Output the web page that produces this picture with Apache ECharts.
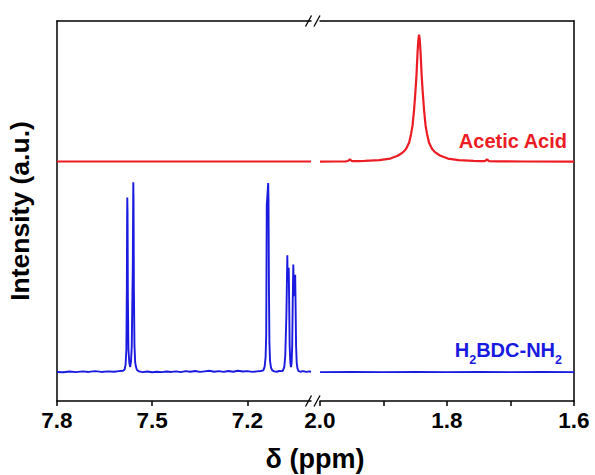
<!DOCTYPE html>
<html>
<head>
<meta charset="utf-8">
<script src="https://cdn.jsdelivr.net/npm/echarts@6/dist/echarts.min.js"></script>
<style>
  html, body { margin: 0; padding: 0; background: #fff; }
  #chart { width: 595px; height: 475px; }
</style>
</head>
<body>
<div id="chart"></div>
<script>
// ---- tick values (ppm) ----
const leftTickLabels = [7.8, 7.5, 7.2];
const rightTickLabels = [2.0, 1.8, 1.6];
const rightTicks = [2.0, 1.9, 1.8, 1.7, 1.6];

// ---- series names ----
const blueLabel = '{n|H}{s|2}{n|BDC-NH}{s|2}';
const redLabel = 'Acetic Acid';

// ---- H2BDC-NH2 spectrum, aromatic window: [ppm, intensity] ----
const blueLeft = [
  [7.800, 0.2], [7.780, 0.0], [7.760, 0.4], [7.740, 0.1], [7.720, 0.5], [7.700, 0.2],
  [7.680, 0.6], [7.660, 0.2], [7.640, 0.5], [7.620, 0.3], [7.605, 0.6],
  [7.592, 0.8], [7.587, 1.5], [7.584, 4], [7.5815, 12], [7.5800, 45], [7.5792, 80],
  [7.5786, 92], [7.5778, 84], [7.5768, 40], [7.5750, 12], [7.5722, 5], [7.5695, 2.8],
  [7.5668, 6], [7.5645, 14], [7.5625, 40], [7.5613, 55], [7.5605, 78], [7.5597, 100],
  [7.5589, 90], [7.5579, 45], [7.5560, 14], [7.5538, 5.4], [7.5515, 3], [7.548, 1.2],
  [7.542, 0.5],
  [7.530, 0.1], [7.515, 0.4], [7.500, 0.0], [7.485, 0.3], [7.470, 0.1], [7.455, 0.4],
  [7.440, 0.2], [7.425, 0.5], [7.410, 0.1], [7.395, 0.6], [7.380, 0.3], [7.365, 0.7],
  [7.350, 0.2], [7.335, 0.5], [7.320, 0.8], [7.305, 0.3], [7.290, 0.6], [7.275, 0.2],
  [7.260, 0.7], [7.245, 0.3], [7.230, 0.8], [7.215, 0.4], [7.200, 0.6], [7.185, 0.2],
  [7.170, 0.5], [7.158, 0.7],
  [7.150, 1.0], [7.146, 3], [7.143, 8], [7.1410, 20], [7.1400, 60], [7.1393, 88],
  [7.1370, 94], [7.1348, 99.6], [7.1338, 90], [7.1325, 45], [7.1310, 16], [7.1290, 6],
  [7.1260, 2.5], [7.122, 1.0], [7.116, 0.5],
  [7.108, 0.3], [7.100, 0.7], [7.092, 0.6],
  [7.088, 1.0], [7.084, 3], [7.0810, 9], [7.0797, 17], [7.0775, 30], [7.0758, 48],
  [7.0746, 61.6], [7.0735, 50], [7.0722, 48], [7.0702, 55], [7.0690, 40], [7.0672, 14],
  [7.0650, 5], [7.0630, 2.8], [7.0610, 5], [7.0592, 14], [7.0575, 38], [7.0557, 56.7],
  [7.0545, 44], [7.0530, 40], [7.0512, 47], [7.0498, 51.4], [7.0485, 35], [7.0470, 14],
  [7.0450, 5], [7.0425, 2], [7.040, 0.8], [7.034, 0.3], [7.025, 0.6], [7.015, 0.2],
  [7.005, 0.5], [7.000, 0.3]
];

// ---- H2BDC-NH2 spectrum, aliphatic window ----
const blueRight = [
  [2.00, 0.1], [1.95, 0.2], [1.90, 0.1], [1.85, 0.2], [1.80, 0.1],
  [1.75, 0.2], [1.70, 0.1], [1.65, 0.2], [1.60, 0.1]
];

// ---- acetic acid spectrum, aromatic window (flat) ----
const redLeft = [[7.8, 0.0], [7.4, 0.0], [7.0, 0.0]];

// ---- acetic acid spectrum, aliphatic window ----
const redRight = [
  [2.000, 0.0], [1.975, 0.05], [1.960, 0.15], [1.956, 0.3], [1.953, 1.2], [1.950, 0.3],
  [1.940, 0.3], [1.9299, 0.4], [1.9065, 0.8], [1.8893, 1.6], [1.8768, 3.2], [1.8690, 5.0],
  [1.8643, 6.8], [1.8596, 10.0], [1.8565, 14.7], [1.8543, 18.9], [1.8518, 27.4],
  [1.8495, 37.9], [1.8481, 45.3], [1.8463, 57.9], [1.8451, 64.2], [1.8440, 66.8],
  [1.8429, 64.2], [1.8417, 57.9], [1.8399, 45.3], [1.8385, 37.9], [1.8362, 27.4],
  [1.8337, 18.9], [1.8315, 14.7], [1.8284, 10.0], [1.8237, 6.8], [1.8190, 5.0],
  [1.8112, 3.2], [1.7987, 1.6], [1.7815, 0.8], [1.7581, 0.4], [1.748, 0.3], [1.740, 0.3],
  [1.737, 1.2], [1.734, 0.3], [1.719, 0.1], [1.680, 0.05], [1.600, 0.0]
];

// vertical stacking of the two traces (intensity units, axis 0..200)
const blueOffset = 15.1;
const redOffset = 126;

const BLUE = '#1a1ae0';
const RED = '#ec1c24';
const FONT = '"Liberation Sans", Arial, sans-serif';

// plot geometry: two panels separated by an axis break
const G = { top: 21, height: 380, leftX0: 57, leftX1: 311, rightX0: 320, rightX1: 574 };

const shift = (arr, off) => arr.map(p => [p[0], p[1] + off]);

const frameLine = { show: true, onZero: false, lineStyle: { color: '#000', width: 1.5 } };
const tickLabelStyle = {
  color: '#000', fontSize: 22.5, fontWeight: 'bold', fontFamily: FONT, margin: 8,
  formatter: v => Number(v).toFixed(1)
};

function bottomAxis(gridIndex, min, max, ticks, labels) {
  return {
    gridIndex, type: 'value', min, max, inverse: true, position: 'bottom',
    axisLine: frameLine,
    axisTick: { show: true, inside: false, length: 5, customValues: ticks,
                lineStyle: { color: '#000', width: 1.5 } },
    axisLabel: Object.assign({ customValues: labels, showMinLabel: true, showMaxLabel: true }, tickLabelStyle),
    splitLine: { show: false }
  };
}
function topAxis(gridIndex, min, max) {
  return {
    gridIndex, type: 'value', min, max, inverse: true, position: 'top',
    axisLine: frameLine, axisTick: { show: false }, axisLabel: { show: false },
    splitLine: { show: false }
  };
}

const chart = echarts.init(document.getElementById('chart'), null, { renderer: 'svg' });

// axis-break slashes on the top and bottom frame lines
const breakMarks = [];
[G.top, G.top + G.height].forEach(yy => {
  [308.5, 317].forEach(cx => {
    breakMarks.push({
      type: 'line', silent: true,
      shape: { x1: cx - 3, y1: yy + 5.5, x2: cx + 3, y2: yy - 5.5 },
      style: { stroke: '#000', lineWidth: 1.3 }
    });
  });
});

chart.setOption({
  animation: false,
  backgroundColor: '#fff',
  grid: [
    { left: G.leftX0, width: G.leftX1 - G.leftX0, top: G.top, height: G.height },
    { left: G.rightX0, width: G.rightX1 - G.rightX0, top: G.top, height: G.height }
  ],
  xAxis: [
    bottomAxis(0, 7.0, 7.8, leftTickLabels, leftTickLabels),
    bottomAxis(1, 1.6, 2.0, rightTicks, rightTickLabels),
    topAxis(0, 7.0, 7.8),
    topAxis(1, 1.6, 2.0)
  ],
  yAxis: [
    {
      gridIndex: 0, type: 'value', min: 0, max: 200, position: 'left',
      axisLine: frameLine, axisTick: { show: false }, axisLabel: { show: false },
      splitLine: { show: false },
      name: 'Intensity (a.u.)', nameLocation: 'middle', nameGap: 24,
      nameTextStyle: { color: '#000', fontSize: 26.5, fontWeight: 'bold', fontFamily: FONT }
    },
    {
      gridIndex: 1, type: 'value', min: 0, max: 200, position: 'right',
      axisLine: frameLine, axisTick: { show: false }, axisLabel: { show: false },
      splitLine: { show: false }
    }
  ],
  series: [
    { name: 'H2BDC-NH2', type: 'line', xAxisIndex: 0, yAxisIndex: 0, data: shift(blueLeft, blueOffset),
      showSymbol: false, symbol: 'none', lineStyle: { color: BLUE, width: 1.9 }, clip: true },
    { name: 'H2BDC-NH2', type: 'line', xAxisIndex: 1, yAxisIndex: 1, data: shift(blueRight, blueOffset),
      showSymbol: false, symbol: 'none', lineStyle: { color: BLUE, width: 1.7 }, clip: true },
    { name: 'Acetic Acid', type: 'line', xAxisIndex: 0, yAxisIndex: 0, data: shift(redLeft, redOffset),
      showSymbol: false, symbol: 'none', lineStyle: { color: RED, width: 2 }, clip: true },
    { name: 'Acetic Acid', type: 'line', xAxisIndex: 1, yAxisIndex: 1, data: shift(redRight, redOffset),
      showSymbol: false, symbol: 'none', lineStyle: { color: RED, width: 2.2 }, clip: true }
  ],
  graphic: [
    ...breakMarks,
    { type: 'text', silent: true, x: 315, y: 459,
      style: { text: 'δ (ppm)', fill: '#000', fontSize: 27, fontWeight: 'bold', fontFamily: FONT,
               align: 'center', verticalAlign: 'middle' } },
    { type: 'text', silent: true, x: 567, y: 141,
      style: { text: redLabel, fill: RED, fontSize: 20, fontWeight: 'bold', fontFamily: FONT,
               align: 'right', verticalAlign: 'middle' } },
    { type: 'text', silent: true, x: 562, y: 360,
      style: { text: blueLabel, fill: BLUE, fontFamily: FONT, align: 'right', verticalAlign: 'middle',
               rich: {
                 n: { fontSize: 20, fontWeight: 'bold', fill: BLUE, fontFamily: FONT, lineHeight: 22,
                      verticalAlign: 'top' },
                 s: { fontSize: 12.5, fontWeight: 'bold', fill: BLUE, fontFamily: FONT, lineHeight: 40 }
               } } }
  ]
});
</script>
</body>
</html>
